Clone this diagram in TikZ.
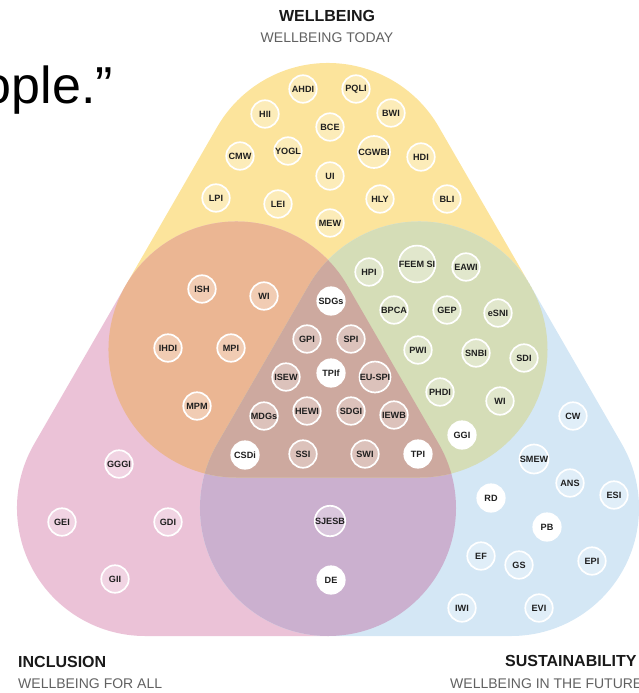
\documentclass[tikz,border=0pt]{standalone}
\usepackage{fontspec}
\setmainfont{Liberation Sans}
\usepackage{xcolor}
\definecolor{wellc}{HTML}{FCE49C}
\definecolor{inclc}{HTML}{EBC2D7}
\definecolor{sustc}{HTML}{D4E7F5}
\definecolor{orangec}{HTML}{EBB693}
\definecolor{greenc}{HTML}{D5DDB7}
\definecolor{purplec}{HTML}{CBB0CF}
\definecolor{brownc}{HTML}{CDA99F}
\newcommand{\lobeR}{128}

\begin{document}
\begin{tikzpicture}[x=1pt, y=-1pt,
  lobe/.style={insert path={(210:\lobeR) -- ++(-91.5,158.5)
      arc[start angle=210, end angle=90, radius=\lobeR] -- ++(183,0)
      arc[start angle=90, end angle=-30, radius=\lobeR] -- ++(-91.5,-158.5)
      arc[start angle=-30, end angle=-150, radius=\lobeR] -- cycle}},
  idx/.style={circle, draw=white, line width=1.7pt, fill=white, fill opacity=0.3,
    text opacity=1, minimum size=27.5pt, inner sep=0pt, text=black!88,
    font=\bfseries\fontsize{9.1}{9}\selectfont},
  hub/.style={idx, fill opacity=1},
  title/.style={font=\bfseries\fontsize{16}{16}\selectfont, text=black!90},
  subtitle/.style={font=\fontsize{14}{14}\selectfont, text=black!62}]
  \useasboundingbox (0,0) rectangle (638,693);
  % the three lobes
  \fill[wellc, shift={(328,191)}, lobe];
  \fill[inclc, shift={(236.5,349.5)}, lobe];
  \fill[sustc, shift={(419.5,349.5)}, lobe];
  % overlaps
  \begin{scope}
    \clip[shift={(236.5,349.5)}, lobe];
    \fill[purplec, shift={(419.5,349.5)}, lobe];
  \end{scope}
  \begin{scope}
    \clip[shift={(328,191)}, lobe];
    \fill[orangec, shift={(236.5,349.5)}, lobe];
    \fill[greenc, shift={(419.5,349.5)}, lobe];
    \clip[shift={(236.5,349.5)}, lobe];
    \fill[brownc, shift={(419.5,349.5)}, lobe];
  \end{scope}
  % leftover slide text
  \node[font=\fontsize{52}{52}\selectfont, anchor=base east, inner sep=0pt] (quote) at (113,103) {ople.”};
  % Wellbeing
  \node[idx] (ahdi) at (303,89) {AHDI};
  \node[idx] (pqli) at (356,89) {PQLI};
  \node[idx] (hii) at (265,114) {HII};
  \node[idx] (bwi) at (391,113) {BWI};
  \node[idx] (bce) at (330,127) {BCE};
  \node[idx] (cmw) at (240,156) {CMW};
  \node[idx] (yogl) at (288,151) {YOGL};
  \node[idx] (cgwbi) at (374,152) {CGWBI};
  \node[idx] (hdi) at (421,157) {HDI};
  \node[idx] (ui) at (330,176) {UI};
  \node[idx] (lpi) at (216,198) {LPI};
  \node[idx] (lei) at (278,204) {LEI};
  \node[idx] (hly) at (380,199) {HLY};
  \node[idx] (bli) at (447,199) {BLI};
  \node[idx] (mew) at (330,223) {MEW};
  % Wellbeing and inclusion
  \node[idx] (ish) at (202,289) {ISH};
  \node[idx] (wia) at (264,296) {WI};
  \node[idx] (ihdi) at (168,348) {IHDI};
  \node[idx] (mpi) at (231,348) {MPI};
  \node[idx] (mpm) at (197,406) {MPM};
  % Wellbeing and sustainability
  \node[idx] (hpi) at (369,272) {HPI};
  \node[idx] (feemsi) at (417,264) {FEEM SI};
  \node[idx] (eawi) at (466,267) {EAWI};
  \node[idx] (bpca) at (394,310) {BPCA};
  \node[idx] (gep) at (447,310) {GEP};
  \node[idx] (esni) at (498,313) {eSNI};
  \node[idx] (pwi) at (418,350) {PWI};
  \node[idx] (snbi) at (476,353) {SNBI};
  \node[idx] (sdi) at (524,358) {SDI};
  \node[idx] (phdi) at (440,392) {PHDI};
  \node[idx] (wib) at (500,401) {WI};
  \node[hub] (ggi) at (462,435) {GGI};
  % All three
  \node[hub] (sdgs) at (331,301) {SDGs};
  \node[idx] (gpi) at (307,339) {GPI};
  \node[idx] (spi) at (351,339) {SPI};
  \node[idx] (isew) at (286,377) {ISEW};
  \node[hub] (tpif) at (331,373) {TPIf};
  \node[idx] (euspi) at (375,377) {EU-SPI};
  \node[idx] (mdgs) at (264,416) {MDGs};
  \node[idx] (hewi) at (307,411) {HEWI};
  \node[idx] (sdgi) at (351,411) {SDGI};
  \node[idx] (iewb) at (394,415) {IEWB};
  \node[hub] (csdi) at (245,455) {CSDi};
  \node[idx] (ssi) at (303,454) {SSI};
  \node[idx] (swi) at (365,454) {SWI};
  \node[hub] (tpi) at (418,454) {TPI};
  % Inclusion
  \node[idx] (gggi) at (119,464) {GGGI};
  \node[idx] (gei) at (62,522) {GEI};
  \node[idx] (gdi) at (168,522) {GDI};
  \node[idx] (gii) at (115,579) {GII};
  % Inclusion and sustainability
  \node[idx] (sjesb) at (330,521) {SJESB};
  \node[hub] (de) at (331,580) {DE};
  % Sustainability
  \node[idx] (cw) at (573,416) {CW};
  \node[idx] (smew) at (534,459) {SMEW};
  \node[idx] (ans) at (570,483) {ANS};
  \node[idx] (esi) at (614,495) {ESI};
  \node[hub] (rd) at (491,498) {RD};
  \node[hub] (pb) at (547,527) {PB};
  \node[idx] (ef) at (481,556) {EF};
  \node[idx] (gs) at (519,565) {GS};
  \node[idx] (epi) at (592,561) {EPI};
  \node[idx] (iwi) at (462,608) {IWI};
  \node[idx] (evi) at (539,608) {EVI};
  % Titles
  \node[title, anchor=base] (wtitle) at (327,22) {WELLBEING};
  \node[subtitle, anchor=base] (wsub) at (327,43) {WELLBEING TODAY};
  \node[title, anchor=base west, inner sep=0pt] (ititle) at (18,667) {INCLUSION};
  \node[subtitle, anchor=base west, inner sep=0pt] (isub) at (18,688) {WELLBEING FOR ALL};
  \node[title, anchor=base west, inner sep=0pt] (stitle) at (505,666) {SUSTAINABILITY};
  \node[subtitle, anchor=base west, inner sep=0pt] (ssub) at (450,688) {WELLBEING IN THE FUTURE};
\end{tikzpicture}
\end{document}
